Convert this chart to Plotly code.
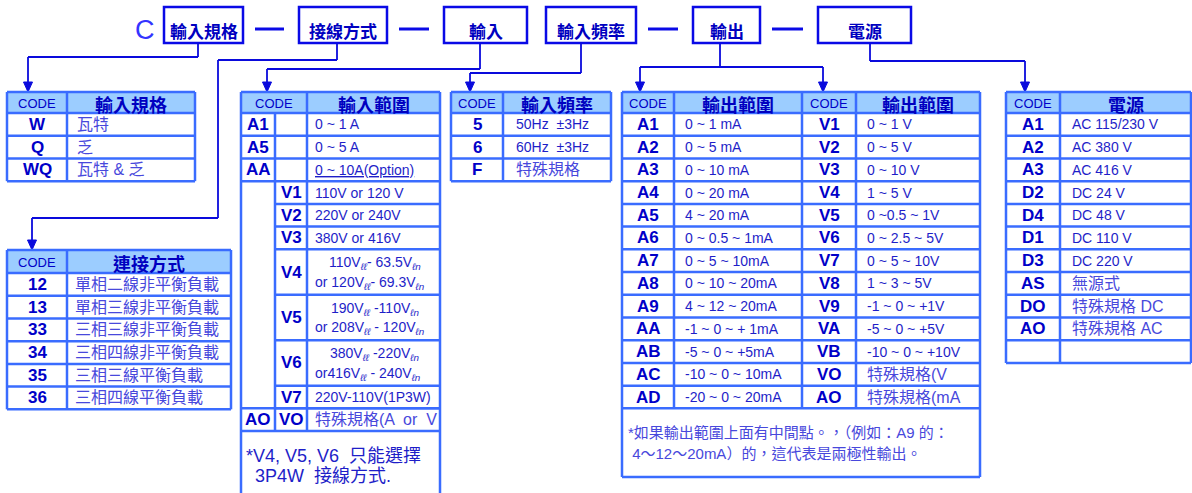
import plotly.graph_objects as go

# ===================== DATA =====================
top_prefix = "C"
top_labels = ["輸入規格", "接線方式", "輸入", "輸入頻率", "輸出", "電源"]
header_code = "CODE"

spec_title = "輸入規格"
spec_codes = ["W", "Q", "WQ"]
spec_desc = ["瓦特", "乏", "瓦特 & 乏"]

conn_title = "連接方式"
conn_codes = ["12", "13", "33", "34", "35", "36"]
conn_desc = ["單相二線非平衡負載", "單相三線非平衡負載", "三相三線非平衡負載",
             "三相四線非平衡負載", "三相三線平衡負載", "三相四線平衡負載"]

in_title = "輸入範圍"
in_cur_codes = ["A1", "A5", "AA"]
in_cur_desc = ["0 ~ 1 A", "0 ~ 5 A", "<u>0 ~ 10A(Option)</u>"]
in_volt_codes = ["V1", "V2", "V3", "V4", "V5", "V6", "V7"]
in_volt_desc = [["110V or 120 V"], ["220V or 240V"], ["380V or 416V"],
                ["110V<sub><i>ℓℓ</i></sub>- 63.5V<sub><i>ℓn</i></sub>",
                 "or 120V<sub><i>ℓℓ</i></sub>- 69.3V<sub><i>ℓn</i></sub>"],
                ["190V<sub><i>ℓℓ</i></sub> -110V<sub><i>ℓn</i></sub>",
                 "or 208V<sub><i>ℓℓ</i></sub> - 120V<sub><i>ℓn</i></sub>"],
                ["380V<sub><i>ℓℓ</i></sub> -220V<sub><i>ℓn</i></sub>",
                 "or416V<sub><i>ℓℓ</i></sub> - 240V<sub><i>ℓn</i></sub>"],
                ["220V-110V(1P3W)"]]
in_special_codes = ["AO", "VO"]
in_special_desc = "特殊規格(A  or  V"
in_note = ["*V4, V5, V6  只能選擇", "3P4W  接線方式."]

freq_title = "輸入頻率"
freq_codes = ["5", "6", "F"]
freq_desc = ["50Hz  ±3Hz", "60Hz  ±3Hz", "特殊規格"]

out_title = "輸出範圍"
out_a_codes = ["A1", "A2", "A3", "A4", "A5", "A6", "A7", "A8", "A9", "AA", "AB", "AC", "AD"]
out_a_desc = ["0 ~ 1 mA", "0 ~ 5 mA", "0 ~ 10 mA", "0 ~ 20 mA", "4 ~ 20 mA", "0 ~ 0.5 ~ 1mA",
              "0 ~ 5 ~ 10mA", "0 ~ 10 ~ 20mA", "4 ~ 12 ~ 20mA", "-1 ~ 0 ~ + 1mA",
              "-5 ~ 0 ~ +5mA", "-10 ~ 0 ~ 10mA", "-20 ~ 0 ~ 20mA"]
out_v_codes = ["V1", "V2", "V3", "V4", "V5", "V6", "V7", "V8", "V9", "VA", "VB", "VO", "AO"]
out_v_desc = ["0 ~ 1 V", "0 ~ 5 V", "0 ~ 10 V", "1 ~ 5 V", "0 ~0.5 ~ 1V", "0 ~ 2.5 ~ 5V",
              "0 ~ 5 ~ 10V", "1 ~ 3 ~ 5V", "-1 ~ 0 ~ +1V", "-5 ~ 0 ~ +5V", "-10 ~ 0 ~ +10V",
              "特殊規格(V", "特殊規格(mA"]
out_note = ["*如果輸出範圍上面有中間點。，（例如：A9 的：", " 4～12～20mA）的，這代表是兩極性輸出。"]

pwr_title = "電源"
pwr_codes = ["A1", "A2", "A3", "D2", "D4", "D1", "D3", "AS", "DO", "AO", ""]
pwr_desc = ["AC 115/230 V", "AC 380 V", "AC 416 V", "DC 24 V", "DC 48 V", "DC 110 V",
            "DC 220 V", "無源式", "特殊規格 DC", "特殊規格 AC", ""]

# ===================== STYLE / LAYOUT =====================
W, H = 1192, 493
FONT = "Liberation Sans, Arial, Noto Sans CJK TC, sans-serif"
CJK = "Noto Sans CJK TC, Liberation Sans, sans-serif"
GRID = "#3a6cff"
HEAD_FILL = "#9ccdff"
BOX = "#0a0ae6"
CONN = "#0a0adc"
CODE_C = "#0000c8"
TXT_C = "#1e1ec8"
CJK_C = "#4848dc"
TITLE_C = "#0000c0"

LW = 2.5
RH = 22.72           # row height
HEAD_TOP = 92
HEAD_BOT = 113

shapes, anns = [], []


def line(x0, y0, x1, y1, color=GRID, w=LW):
    shapes.append(dict(type="line", xref="x", yref="y", x0=x0, y0=y0, x1=x1, y1=y1,
                       line=dict(color=color, width=w)))


def rect(x0, y0, x1, y1, fill=None, color=GRID, w=0):
    d = dict(type="rect", xref="x", yref="y", x0=x0, y0=y0, x1=x1, y1=y1, layer="below",
             line=dict(color=color, width=w))
    if fill:
        d["fillcolor"] = fill
    shapes.append(d)


def text(x, y, s, size=14, color=TXT_C, anchor="left", bold=False, family=FONT):
    anns.append(dict(x=x, y=y, xref="x", yref="y", text=s, showarrow=False,
                     xanchor=anchor, yanchor="middle",
                     font=dict(size=size, color=color, family=family,
                               weight="bold" if bold else "normal")))


def has_cjk(s):
    return any(ord(c) > 0x2E80 for c in s)


def desc_text(x, y, s, size=14):
    text(x, y, s, size=16 if has_cjk(s) and size == 14 else size,
         color=CJK_C if has_cjk(s) else TXT_C)


def arrow(x, tip):
    shapes.append(dict(type="path", xref="x", yref="y",
                       path=f"M {x-4.5},{tip-10} L {x+4.5},{tip-10} L {x},{tip} Z",
                       fillcolor=CONN, line=dict(color=CONN, width=1)))


def poly(pts, color=CONN, w=1.8):
    for (a, b), (c, d) in zip(pts[:-1], pts[1:]):
        line(a, b, c, d, color=color, w=w)


def header(x0, x1, top, bot, label, size, bold, color=TITLE_C, family=FONT):
    text((x0 + x1) / 2, (top + bot) / 2 + 1, label, size=size, color=color,
         anchor="center", bold=bold, family=family)


def simple_table(xs, top, hbot, title, codes, descs, pad):
    x0, xd, x1 = xs
    n = len(codes)
    bottom = hbot + n * RH
    rect(x0, top, x1, hbot, fill=HEAD_FILL)
    line(x0, top, x1, top)
    for i in range(n + 1):
        line(x0, hbot + i * RH, x1, hbot + i * RH)
    for x in xs:
        line(x, top, x, bottom)
    header(x0, xd, top, hbot, header_code, 13, False, color=CODE_C)
    header(xd, x1, top, hbot, title, 18, True, family=CJK)
    for i, (c, d) in enumerate(zip(codes, descs)):
        yc = hbot + (i + 0.5) * RH
        if c:
            text((x0 + xd) / 2, yc, c, size=17, color=CODE_C, anchor="center", bold=True)
        if d:
            desc_text(xd + pad, yc, d)
    return bottom


# ---------- top line of boxes ----------
box_x = [(164, 243), (299, 387), (444, 527), (546, 636), (693, 760), (818, 911)]
box_y = (7, 43)
text(145, 30, top_prefix, size=27, color="#3434ff", anchor="center")
for (a, b), lab in zip(box_x, top_labels):
    rect(a, box_y[0], b, box_y[1], color=BOX, w=2.5)
    text((a + b) / 2, 30, lab, size=17, color=TITLE_C, anchor="center", bold=True, family=CJK)
for i in (0, 1, 3, 4):
    a = box_x[i][1] + 12
    b = box_x[i + 1][0] - 15
    line(a, 29, b, 29, color=BOX, w=3)

# ---------- connectors ----------
poly([(198, 43), (198, 57), (28, 57), (28, 84)]); arrow(28, 92)
poly([(337, 43), (337, 60), (218, 60), (218, 218), (32, 218), (32, 242)]); arrow(32, 250)
poly([(480, 43), (480, 69), (267, 69), (267, 84)]); arrow(267, 92)
poly([(581, 43), (581, 73), (470, 73), (470, 84)]); arrow(470, 92)
poly([(720, 43), (720, 67)])
poly([(640, 67), (823, 67)])
poly([(640, 67), (640, 84)]); arrow(640, 92)
poly([(823, 67), (823, 84)]); arrow(823, 92)
poly([(870, 43), (870, 61), (1025, 61), (1025, 84)]); arrow(1025, 92)

# ---------- table 1 : 輸入規格 ----------
simple_table((7, 67, 195), HEAD_TOP, HEAD_BOT, spec_title, spec_codes, spec_desc, 8)

# ---------- table 2 : 連接方式 ----------
simple_table((7, 67, 231), 250, 273, conn_title, conn_codes, conn_desc, 6)

# ---------- table 4 : 輸入頻率 ----------
simple_table((451, 503, 611), HEAD_TOP, HEAD_BOT, freq_title, freq_codes, freq_desc, 11)

# ---------- table 6 : 電源 ----------
simple_table((1006, 1060, 1191), HEAD_TOP, HEAD_BOT, pwr_title, pwr_codes, pwr_desc, 10)

# ---------- table 3 : 輸入範圍 ----------
tx = (241, 275, 307, 440)
rect(tx[0], HEAD_TOP, tx[3], HEAD_BOT, fill=HEAD_FILL)
line(tx[0], HEAD_TOP, tx[3], HEAD_TOP)
line(tx[0], HEAD_BOT, tx[3], HEAD_BOT)
header(tx[0], tx[2], HEAD_TOP, HEAD_BOT, header_code, 13, False, color=CODE_C)
header(tx[2], tx[3], HEAD_TOP, HEAD_BOT, in_title, 18, True, family=CJK)
r = 0
for c, d in zip(in_cur_codes, in_cur_desc):
    yc = HEAD_BOT + (r + 0.5) * RH
    text((tx[0] + tx[1]) / 2, yc, c, size=17, color=CODE_C, anchor="center", bold=True)
    desc_text(tx[2] + 6, yc, d)
    r += 1
    line(tx[0], HEAD_BOT + r * RH, tx[3], HEAD_BOT + r * RH)
for c, lines_ in zip(in_volt_codes, in_volt_desc):
    span = len(lines_)
    y0 = HEAD_BOT + r * RH
    y1 = HEAD_BOT + (r + span) * RH
    text((tx[1] + tx[2]) / 2, (y0 + y1) / 2, c, size=17, color=CODE_C, anchor="center", bold=True)
    if span == 1:
        desc_text(tx[2] + 6, (y0 + y1) / 2, lines_[0])
    else:
        text((tx[2] + tx[3]) / 2 + 1, y0 + RH * 0.62, lines_[0], size=14, anchor="center")
        text(tx[2] + 6, y0 + RH * 1.48, lines_[1], size=14)
    r += span
    line(tx[1], y1, tx[3], y1)
line(tx[0], HEAD_BOT + r * RH, tx[3], HEAD_BOT + r * RH)
yc = HEAD_BOT + (r + 0.5) * RH
text((tx[0] + tx[1]) / 2, yc, in_special_codes[0], size=17, color=CODE_C, anchor="center", bold=True)
text((tx[1] + tx[2]) / 2, yc, in_special_codes[1], size=17, color=CODE_C, anchor="center", bold=True)
desc_text(tx[2] + 6, yc, in_special_desc)
r += 1
note_top = HEAD_BOT + r * RH
line(tx[0], note_top, tx[3], note_top)
for x in (tx[0], tx[3]):
    line(x, HEAD_TOP, x, H + 5)
line(tx[1], HEAD_BOT, tx[1], note_top)
line(tx[2], HEAD_TOP, tx[2], note_top)
text(244, note_top + 25, in_note[0], size=18, color=TXT_C)
text(253, note_top + 45, in_note[1], size=18, color=TXT_C)

# ---------- table 5 : 輸出範圍 ----------
ox = (622, 674, 802, 856, 980)
n = len(out_a_codes)
tbl_bot = HEAD_BOT + n * RH
rect(ox[0], HEAD_TOP, ox[4], HEAD_BOT, fill=HEAD_FILL)
line(ox[0], HEAD_TOP, ox[4], HEAD_TOP)
for i in range(n + 1):
    line(ox[0], HEAD_BOT + i * RH, ox[4], HEAD_BOT + i * RH)
for x in ox[1:4]:
    line(x, HEAD_TOP, x, tbl_bot)
line(ox[0], HEAD_TOP, ox[0], 477)
line(ox[4], HEAD_TOP, ox[4], 477)
line(ox[0], 477, ox[4], 477)
header(ox[0], ox[1], HEAD_TOP, HEAD_BOT, header_code, 13, False, color=CODE_C)
header(ox[1], ox[2], HEAD_TOP, HEAD_BOT, out_title, 18, True, family=CJK)
header(ox[2], ox[3], HEAD_TOP, HEAD_BOT, header_code, 13, False, color=CODE_C)
header(ox[3], ox[4], HEAD_TOP, HEAD_BOT, out_title, 18, True, family=CJK)
for i in range(n):
    yc = HEAD_BOT + (i + 0.5) * RH
    text((ox[0] + ox[1]) / 2, yc, out_a_codes[i], size=17, color=CODE_C, anchor="center", bold=True)
    desc_text(ox[1] + 9, yc, out_a_desc[i])
    text((ox[2] + ox[3]) / 2, yc, out_v_codes[i], size=17, color=CODE_C, anchor="center", bold=True)
    desc_text(ox[3] + 9, yc, out_v_desc[i])
text(626, tbl_bot + 24, out_note[0], size=15, color=CJK_C)
text(626, tbl_bot + 45, out_note[1], size=15, color=CJK_C)

# ===================== FIGURE =====================
fig = go.Figure()
fig.update_layout(
    width=W, height=H, margin=dict(l=0, r=0, t=0, b=0),
    paper_bgcolor="white", plot_bgcolor="white",
    xaxis=dict(range=[0, W], visible=False, fixedrange=True),
    yaxis=dict(range=[H, 0], visible=False, fixedrange=True),
    shapes=shapes, annotations=anns, showlegend=False,
)
fig.write_html("out.html", config={"displayModeBar": False, "staticPlot": True},
               post_script="document.body.style.margin='0';document.body.style.overflow='hidden';")
